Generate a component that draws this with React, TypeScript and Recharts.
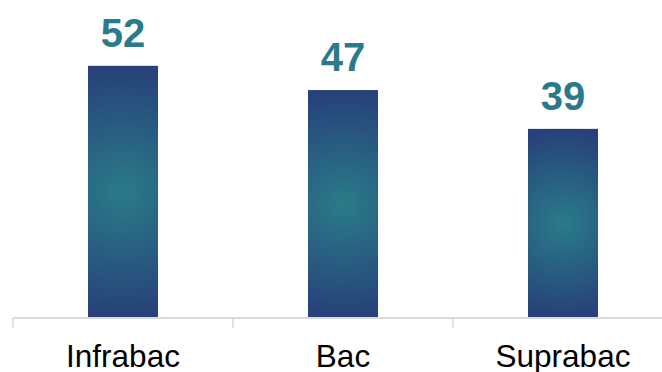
import { BarChart, Bar, XAxis, YAxis, LabelList } from "recharts";

const categories = ["Infrabac", "Bac", "Suprabac"];
const values = [52, 47, 39];

const data = categories.map((name, i) => ({ name, value: values[i] }));

const EDGE = "#27417a";
const CENTER = "#2a7b88";
const LABEL = "#2b7a8b";
const AXIS = "#d9d9d9";

function GlowBar(props: any) {
  const { x, y, width, height, index } = props;
  const id = `glow-${index}`;
  return (
    <g>
      <defs>
        <radialGradient
          id={id}
          gradientUnits="userSpaceOnUse"
          cx={x + width / 2}
          cy={y + height / 2}
          r={height / 2}
        >
          <stop offset="0%" stopColor={CENTER} />
          <stop offset="100%" stopColor={EDGE} />
        </radialGradient>
      </defs>
      <rect x={x} y={y} width={width} height={height} fill={`url(#${id})`} />
    </g>
  );
}

function CategoryTick(props: any) {
  const { x, y, payload } = props;
  const half = payload?.offset ?? 110;
  return (
    <g>
      <line x1={x - half} x2={x - half} y1={y} y2={y + 10} stroke={AXIS} strokeWidth={1.5} />
      <text
        x={x}
        y={y + 49}
        textAnchor="middle"
        fill="#000"
        fontSize={31.5}
        fontFamily="'Liberation Sans', Arial, sans-serif"
      >
        {payload.value}
      </text>
    </g>
  );
}

export default function App() {
  return (
    <div style={{ position: "absolute", left: 0, top: 0, width: 662, height: 372, overflow: "hidden", background: "#fff" }}>
      <BarChart
        width={680}
        height={372}
        data={data}
        margin={{ top: 27, right: 7, left: 13, bottom: 0 }}
        barCategoryGap={0}
      >
        <XAxis
          dataKey="name"
          axisLine={{ stroke: AXIS, strokeWidth: 2 }}
          tickLine={false}
          tickSize={0}
          tickMargin={0}
          height={54}
          interval={0}
          tick={<CategoryTick />}
        />
        <YAxis hide domain={[0, 60]} />
        <Bar dataKey="value" barSize={70} shape={<GlowBar />} isAnimationActive={false}>
          <LabelList
            dataKey="value"
            position="top"
            offset={19}
            fill={LABEL}
            fontSize={40}
            fontWeight="bold"
            fontFamily="'Liberation Sans', Arial, sans-serif"
          />
        </Bar>
      </BarChart>
    </div>
  );
}
